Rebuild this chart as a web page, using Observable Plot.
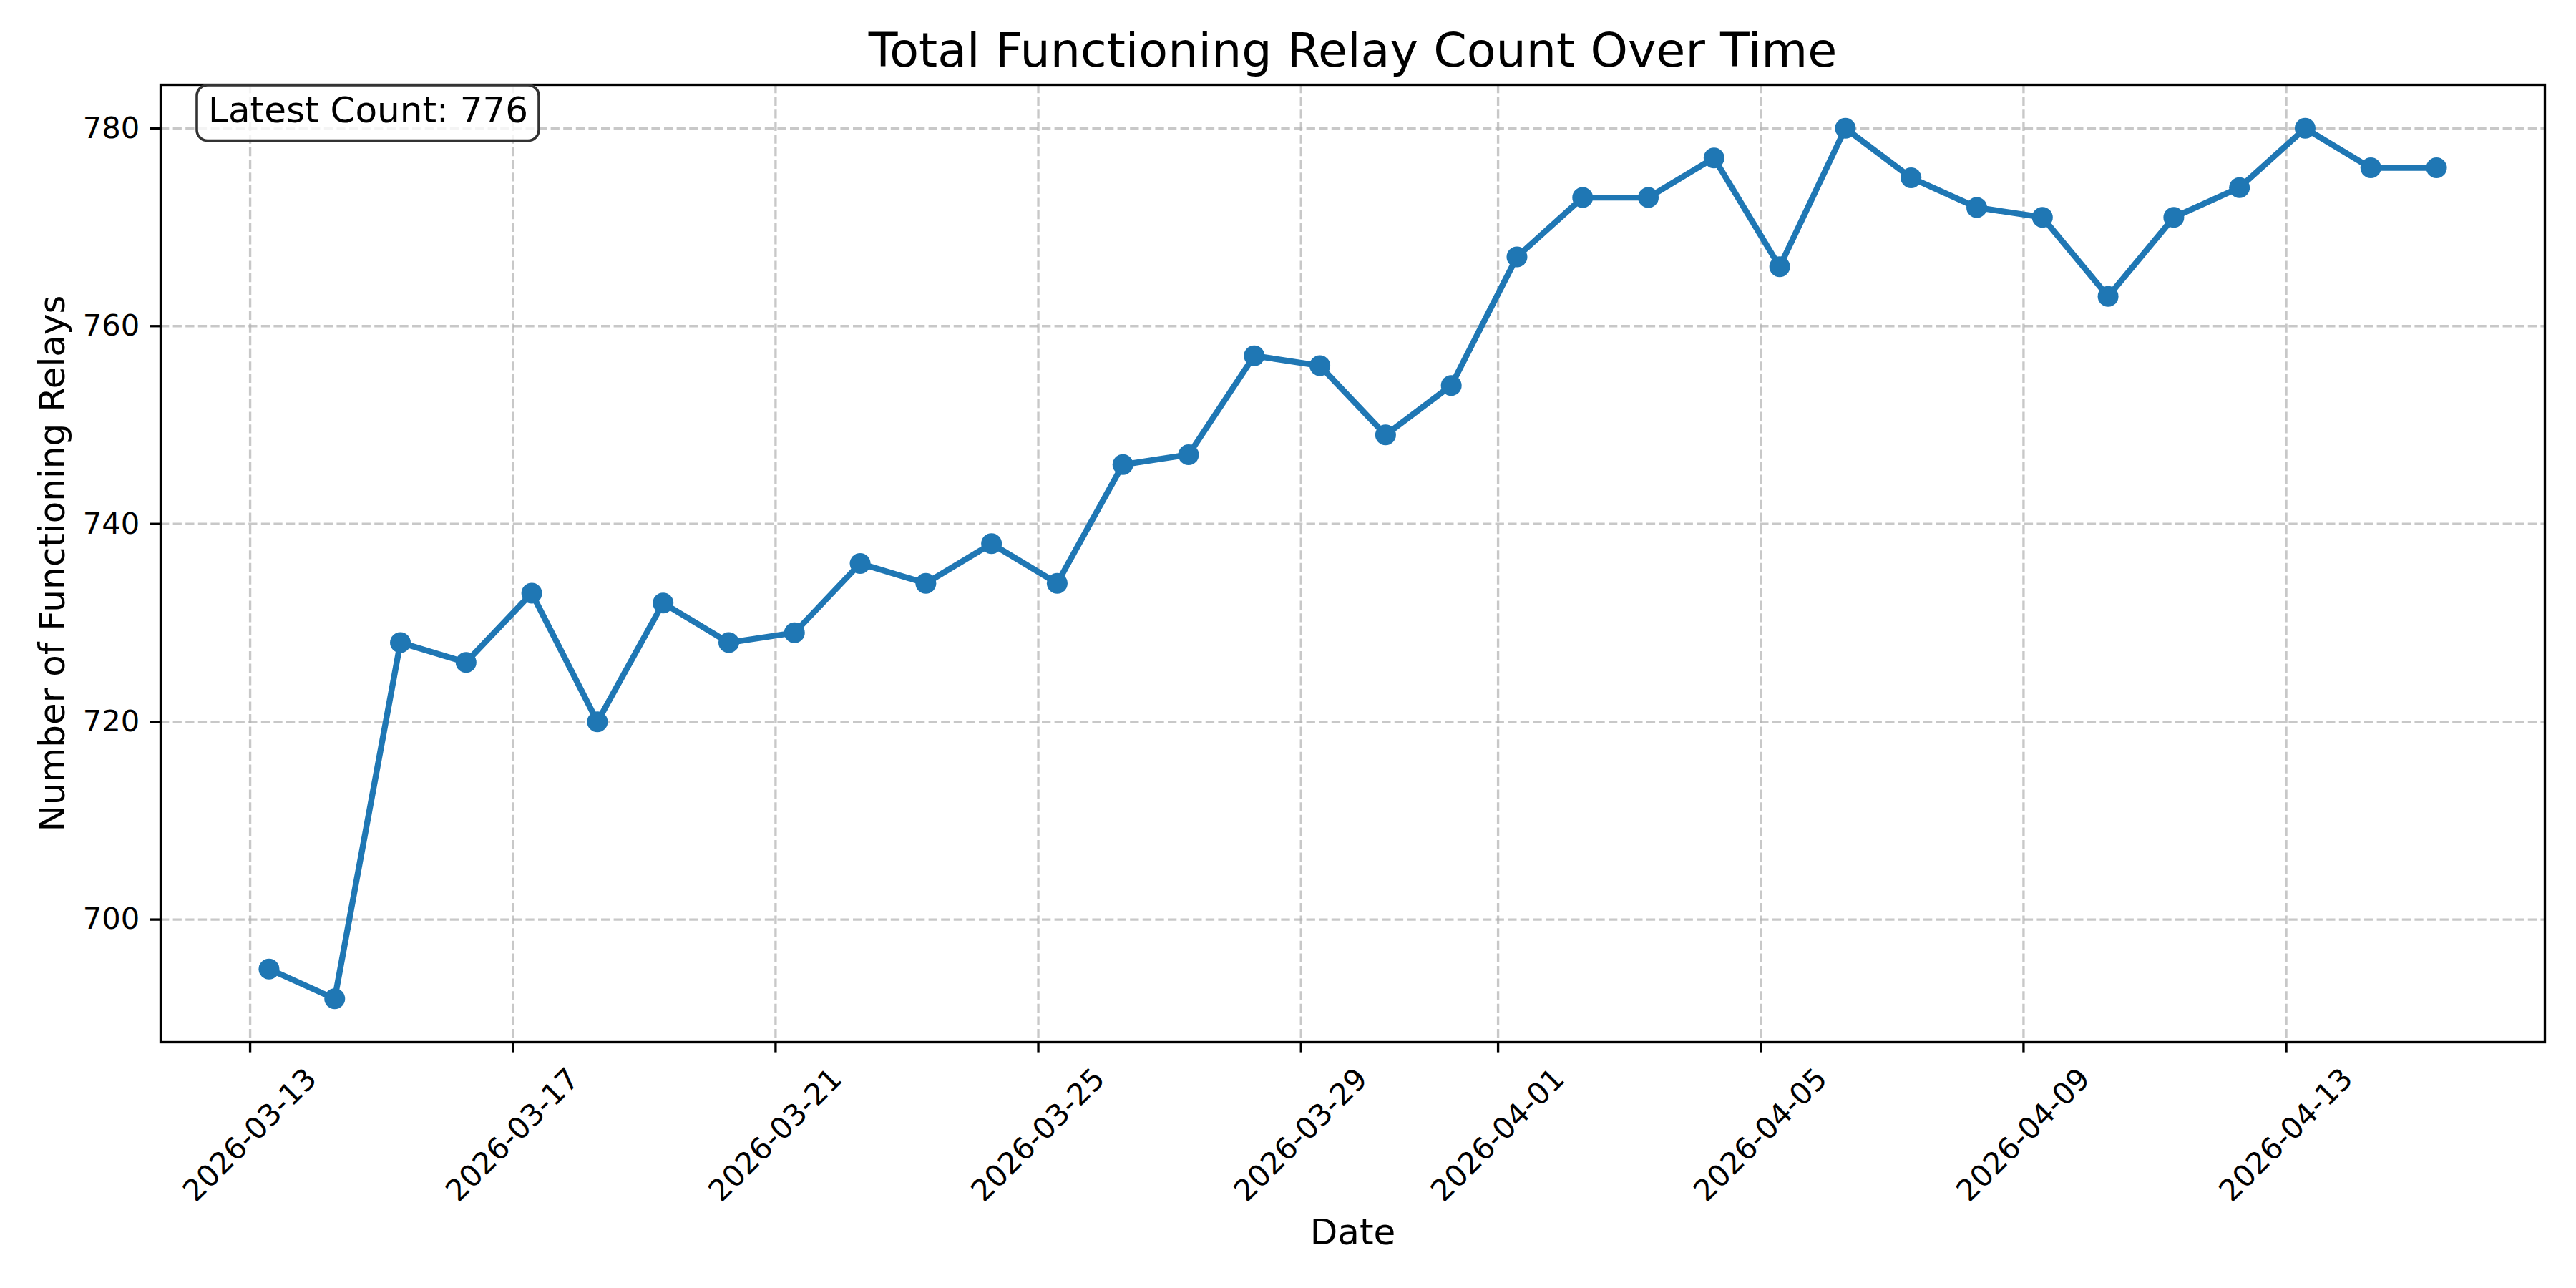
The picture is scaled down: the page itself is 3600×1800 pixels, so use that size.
<!DOCTYPE html>
<html>
<head>
<meta charset="utf-8">
<script src="https://cdn.jsdelivr.net/npm/d3@7"></script>
<script src="https://cdn.jsdelivr.net/npm/@observablehq/plot@0.6"></script>
<style>
  html, body { margin: 0; padding: 0; background: #fff; }
  #chart svg { display: block; }
</style>
</head>
<body>
<div id="chart"></div>
<script>
// ---- data ----
const dates = [
  "2026-03-13","2026-03-14","2026-03-15","2026-03-16","2026-03-17","2026-03-18",
  "2026-03-19","2026-03-20","2026-03-21","2026-03-22","2026-03-23","2026-03-24",
  "2026-03-25","2026-03-26","2026-03-27","2026-03-28","2026-03-29","2026-03-30",
  "2026-03-31","2026-04-01","2026-04-02","2026-04-03","2026-04-04","2026-04-05",
  "2026-04-06","2026-04-07","2026-04-08","2026-04-09","2026-04-10","2026-04-11",
  "2026-04-12","2026-04-13","2026-04-14","2026-04-15"
];
const counts = [
  695, 692, 728, 726, 733, 720,
  732, 728, 729, 736, 734, 738,
  734, 746, 747, 757, 756, 749,
  754, 767, 773, 773, 777, 766,
  780, 775, 772, 771, 763, 771,
  774, 780, 776, 776
];
const sampleTime = "T06:54:00Z";
const xTickLabels = ["2026-03-13","2026-03-17","2026-03-21","2026-03-25","2026-03-29",
                     "2026-04-01","2026-04-05","2026-04-09","2026-04-13"];
const yTicks = [700, 720, 740, 760, 780];
const titleText = "Total Functioning Relay Count Over Time";
const xLabel = "Date";
const yLabel = "Number of Functioning Relays";
const latestLabel = "Latest Count: " + counts[counts.length - 1];

// ---- build ----
const data = dates.map((d, i) => ({date: new Date(d + sampleTime), count: counts[i]}));
const xTicks = xTickLabels.map(d => new Date(d + "T00:00:00Z"));

const tMin = +data[0].date, tMax = +data[data.length - 1].date;
const tPad = (tMax - tMin) * 0.05;
const yMin = d3.min(counts), yMax = d3.max(counts);
const yPad = (yMax - yMin) * 0.05;

const blue = "#1f77b4";
const gridStyle = {stroke: "#b0b0b0", strokeOpacity: 0.7, strokeWidth: 3.33, strokeDasharray: "12.3,5.3"};
const fmt = d3.utcFormat("%Y-%m-%d");

function latestBox(index, scales, values, dims) {
  const g = d3.create("svg:g");
  g.append("rect")
    .attr("x", dims.marginLeft + 51)
    .attr("y", dims.marginTop + 1)
    .attr("width", 478)
    .attr("height", 77.5)
    .attr("rx", 15).attr("ry", 15)
    .attr("fill", "white").attr("fill-opacity", 0.8)
    .attr("stroke", "#333").attr("stroke-width", 3.6);
  return g.node();
}

const chart = Plot.plot({
  width: 3600,
  height: 1800,
  marginLeft: 224,
  marginRight: 44,
  marginTop: 118,
  marginBottom: 344,
  style: {fontFamily: "DejaVu Sans", background: "white", color: "black"},
  x: {type: "utc", domain: [new Date(tMin - tPad), new Date(tMax + tPad)]},
  y: {domain: [yMin - yPad, yMax + yPad]},
  marks: [
    Plot.gridX(xTicks, {x: d => d, ...gridStyle}),
    Plot.gridY(yTicks, {y: d => d, ...gridStyle}),
    Plot.line(data, {x: "date", y: "count", stroke: blue, strokeWidth: 8.33, strokeLinejoin: "round", strokeLinecap: "butt"}),
    Plot.dot(data, {x: "date", y: "count", r: 14.5, fill: blue, stroke: null}),
    Plot.frame({stroke: "black", strokeWidth: 3.33}),
    Plot.axisY({ticks: yTicks, tickSize: 14.6, tickPadding: 14.6, strokeWidth: 3.33, fontSize: 41.7, label: null, tickFormat: d => String(d)}),
    Plot.axisX({ticks: xTicks, tickSize: 14.6, strokeWidth: 3.33, tickFormat: () => "", label: null}),
    Plot.text(xTicks, {x: d => d, text: d => fmt(d), frameAnchor: "bottom", rotate: -45, dy: 130,
                       textAnchor: "middle", lineAnchor: "middle", fontSize: 41.7, fill: "black"}),
    Plot.text([xLabel], {text: d => d, frameAnchor: "bottom", dy: 266, textAnchor: "middle", lineAnchor: "middle", fontSize: 50, fill: "black"}),
    Plot.text([yLabel], {text: d => d, frameAnchor: "left", dx: -151, rotate: -90, textAnchor: "middle", lineAnchor: "middle", fontSize: 50, fill: "black"}),
    Plot.text([titleText], {text: d => d, frameAnchor: "top", dy: -46.6, textAnchor: "middle", lineAnchor: "middle", fontSize: 66.7, fill: "black"}),
    latestBox,
    Plot.text([latestLabel], {text: d => d, frameAnchor: "top-left", dx: 66.6, dy: 36.4, textAnchor: "start", lineAnchor: "middle", fontSize: 50, fill: "black"})
  ]
});
document.getElementById("chart").appendChild(chart);
</script>
</body>
</html>
